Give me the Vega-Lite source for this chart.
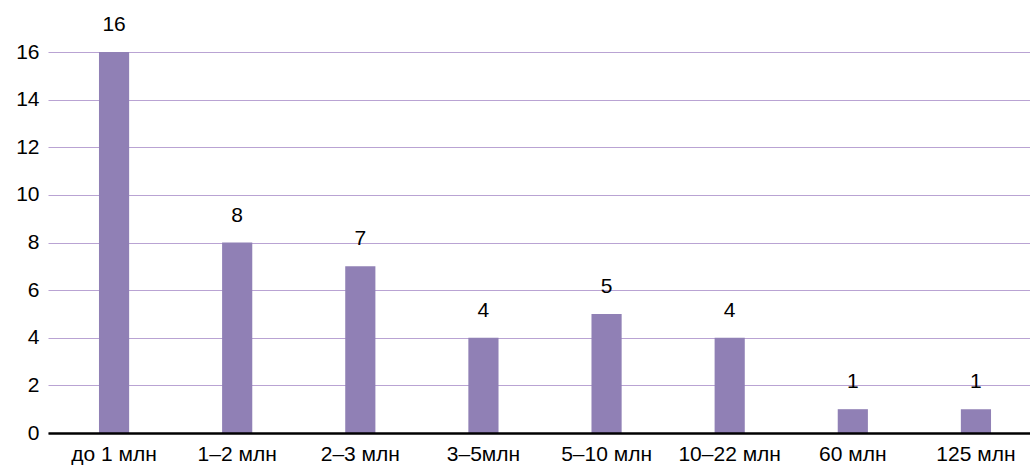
{
  "$schema": "https://vega.github.io/schema/vega-lite/v6.json",
  "width": 994,
  "height": 381,
  "autosize": {"type": "none"},
  "padding": {"left": 48, "top": 52, "right": 0, "bottom": 33},
  "background": "white",
  "config": {"view": {"stroke": null}, "font": "Liberation Sans"},
  "data": {
    "values": [
      {"range": "до 1 млн", "count": 16},
      {"range": "1–2 млн", "count": 8},
      {"range": "2–3 млн", "count": 7},
      {"range": "3–5млн", "count": 4},
      {"range": "5–10 млн", "count": 5},
      {"range": "10–22 млн", "count": 4},
      {"range": "60 млн", "count": 1},
      {"range": "125 млн", "count": 1}
    ]
  },
  "encoding": {
    "x": {
      "field": "range",
      "type": "nominal",
      "sort": null,
      "scale": {"paddingInner": 0.755, "paddingOuter": 0.414},
      "axis": {
        "title": null,
        "labelAngle": 0,
        "labelFontSize": 21,
        "labelColor": "#000000",
        "labelPadding": 10,
        "ticks": false,
        "domainColor": "#000000",
        "domainWidth": 2.5,
        "zindex": 1
      }
    },
    "y": {
      "field": "count",
      "type": "quantitative",
      "scale": {"domain": [0, 16], "nice": false},
      "axis": {
        "title": null,
        "values": [0, 2, 4, 6, 8, 10, 12, 14, 16],
        "labelFontSize": 21,
        "labelColor": "#000000",
        "labelPadding": 9,
        "ticks": false,
        "domain": false,
        "gridColor": "#b9a3d3",
        "gridWidth": 1,
        "gridOpacity": 1
      }
    }
  },
  "layer": [
    {"mark": {"type": "bar", "color": "#9080b5"}},
    {
      "mark": {"type": "text", "dy": -21, "fontSize": 21, "color": "#000000", "baseline": "alphabetic"},
      "encoding": {"text": {"field": "count", "type": "quantitative"}}
    }
  ]
}
